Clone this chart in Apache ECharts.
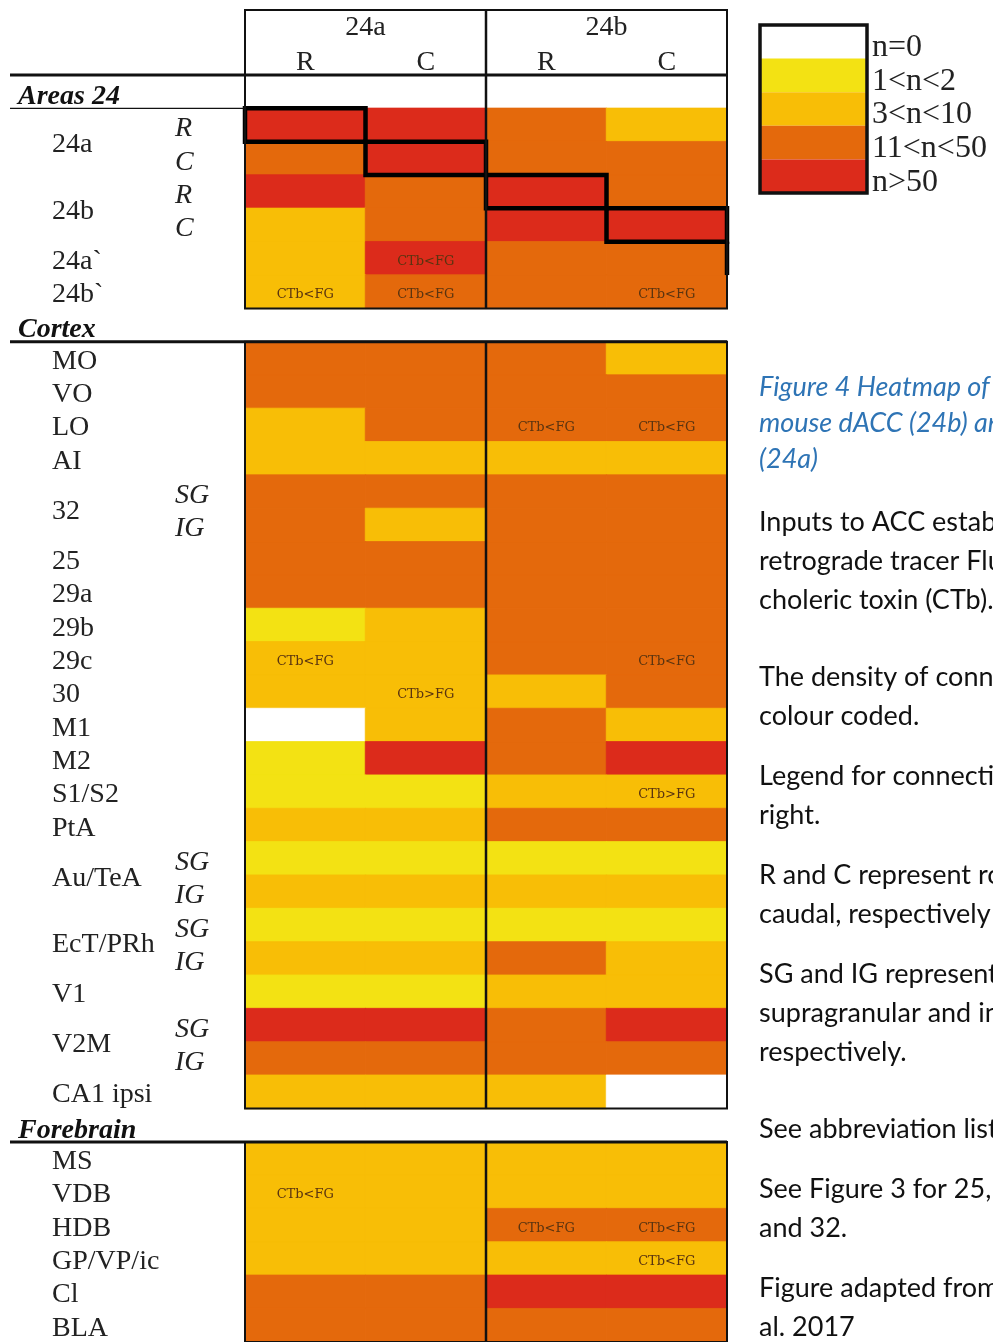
<!DOCTYPE html>
<html><head><meta charset="utf-8">
<script src="https://cdn.jsdelivr.net/npm/echarts@6/dist/echarts.min.js"></script>
<style>html,body{margin:0;padding:0;background:#fff}#c{width:993px;height:1342px}</style>
</head><body><div id="c"></div>
<script>
// ---------- DATA ----------
const columns = ['24a R', '24a C', '24b R', '24b C'];
const columnSubLabels = ['R', 'C', 'R', 'C'];
const columnGroups = ['24a', '24b'];

const rowKeys = ['Areas 24', '24a R', '24a C', '24b R', '24b C', '24a`', '24b`',
  'Cortex', 'MO', 'VO', 'LO', 'AI', '32 SG', '32 IG', '25', '29a', '29b', '29c', '30', 'M1', 'M2', 'S1/S2', 'PtA',
  'Au/TeA SG', 'Au/TeA IG', 'EcT/PRh SG', 'EcT/PRh IG', 'V1', 'V2M SG', 'V2M IG', 'CA1 ipsi',
  'Forebrain', 'MS', 'VDB', 'HDB', 'GP/VP/ic', 'Cl', 'BLA'];
const sectionHeaders = ['Areas 24', 'Cortex', 'Forebrain'];
const rowLabels = ['', '24a', '', '24b', '', '24a`', '24b`',
  '', 'MO', 'VO', 'LO', 'AI', '32', '', '25', '29a', '29b', '29c', '30', 'M1', 'M2', 'S1/S2', 'PtA',
  'Au/TeA', '', 'EcT/PRh', '', 'V1', 'V2M', '', 'CA1 ipsi',
  '', 'MS', 'VDB', 'HDB', 'GP/VP/ic', 'Cl', 'BLA'];
const rowSubLabels = ['', 'R', 'C', 'R', 'C', '', '',
  '', '', '', '', '', 'SG', 'IG', '', '', '', '', '', '', '', '', '',
  'SG', 'IG', 'SG', 'IG', '', 'SG', 'IG', '',
  '', '', '', '', '', '', ''];

// connection level: 0 n=0, 1 1<n<2, 2 3<n<10, 3 11<n<50, 4 n>50 (null = section header row)
const v24aR = [null, 4, 3, 4, 2, 2, 2, null, 3, 3, 2, 2, 3, 3, 3, 3, 1, 2, 2, 0, 1, 1, 2, 1, 2, 1, 2, 1, 4, 3, 2, null, 2, 2, 2, 2, 3, 3];
const v24aC = [null, 4, 4, 3, 3, 4, 3, null, 3, 3, 3, 2, 3, 2, 3, 3, 2, 2, 2, 2, 4, 1, 2, 1, 2, 1, 2, 1, 4, 3, 2, null, 2, 2, 2, 2, 3, 3];
const v24bR = [null, 3, 3, 4, 4, 3, 3, null, 3, 3, 3, 2, 3, 3, 3, 3, 3, 3, 2, 3, 3, 2, 3, 1, 2, 1, 3, 2, 3, 3, 2, null, 2, 2, 3, 2, 4, 3];
const v24bC = [null, 2, 3, 3, 4, 3, 3, null, 2, 3, 3, 2, 3, 3, 3, 3, 3, 3, 3, 2, 4, 2, 3, 1, 2, 1, 2, 2, 4, 3, 0, null, 2, 2, 3, 2, 4, 3];

const notes = [
  ['24a`', '24a C', 'CTb<FG'],
  ['24b`', '24a R', 'CTb<FG'], ['24b`', '24a C', 'CTb<FG'], ['24b`', '24b C', 'CTb<FG'],
  ['LO', '24b R', 'CTb<FG'], ['LO', '24b C', 'CTb<FG'],
  ['29c', '24a R', 'CTb<FG'], ['29c', '24b C', 'CTb<FG'],
  ['30', '24a C', 'CTb>FG'],
  ['S1/S2', '24b C', 'CTb>FG'],
  ['VDB', '24a R', 'CTb<FG'],
  ['HDB', '24b R', 'CTb<FG'], ['HDB', '24b C', 'CTb<FG'],
  ['GP/VP/ic', '24b C', 'CTb<FG']
];

const diagonalCells = [['24a R', '24a R'], ['24a C', '24a C'], ['24b R', '24b R'], ['24b C', '24b C']];

const legendLabels = ['n=0', '1<n<2', '3<n<10', '11<n<50', 'n>50'];
const levelColors = ['#FFFFFF', '#F3E213', '#F8BE06', '#E4690C', '#DC2B1B'];

const captionTitle = ['Figure 4 Heatmap of', 'mouse dACC (24b) and', '(24a)'];
const captionParagraphs = [
  ['Inputs to ACC established', 'retrograde tracer Fluorogold', 'choleric toxin (CTb).'],
  [''],
  ['The density of connections', 'colour coded.'],
  ['Legend for connections', 'right.'],
  ['R and C represent rostral', 'caudal, respectively'],
  ['SG and IG represent', 'supragranular and infragranular', 'respectively.'],
  [''],
  ['See abbreviation list'],
  ['See Figure 3 for 25,', 'and 32.'],
  ['Figure adapted from', 'al. 2017']
];

// ---------- CHART ----------
const chart = echarts.init(document.getElementById('c'));
const colValues = [v24aR, v24aC, v24bR, v24bC];
const heatData = [];
rowKeys.forEach((rk, ri) => {
  colValues.forEach((arr, ci) => {
    const v = arr[ri];
    if (v === null || v === undefined) return;
    const item = { value: [ci, ri, v], itemStyle: { borderColor: levelColors[v], borderWidth: 0.8 } };
    const note = notes.find(n => n[0] === rk && n[1] === columns[ci]);
    if (note) item.label = { show: true, formatter: note[2] };
    heatData.push(item);
  });
});

const serif = '"Liberation Serif", "Times New Roman", serif';

chart.setOption({
  animation: false,
  backgroundColor: '#fff',
  grid: { left: 245, right: 266, top: 75, bottom: 0 },
  xAxis: [
    { type: 'category', data: columns, position: 'top',
      axisLine: { show: false }, axisTick: { show: false }, splitLine: { show: false },
      axisLabel: { formatter: (v, i) => columnSubLabels[i], margin: -2, fontFamily: serif, fontSize: 28, color: '#222' } },
    { type: 'category', data: columnGroups, position: 'top', offset: 35,
      axisLine: { show: false }, axisTick: { show: false }, splitLine: { show: false },
      axisLabel: { margin: -2, fontFamily: serif, fontSize: 28, color: '#222' } }
  ],
  yAxis: { type: 'category', data: rowKeys, inverse: true, show: false },
  visualMap: {
    type: 'piecewise', show: false, dimension: 2, seriesIndex: 0,
    pieces: levelColors.map((c, i) => ({ value: i, color: c }))
  },
  series: [
    {
      type: 'heatmap', data: heatData, xAxisIndex: 0, yAxisIndex: 0,
      emphasis: { disabled: true },
      label: { show: false, fontFamily: '"DejaVu Serif", serif', fontSize: 13, color: '#5a3410', offset: [0, 3] },
      z: 1
    },
    {
      type: 'custom', coordinateSystem: 'cartesian2d', xAxisIndex: 0, yAxisIndex: 0,
      silent: true, clip: false, z: 5,
      data: diagonalCells.map(([r, c]) => [columns.indexOf(c), rowKeys.indexOf(r)]),
      renderItem: function (params, api) {
        const p = api.coord([api.value(0), api.value(1)]);
        const s = api.size([1, 1]);
        const x0 = p[0] - s[0] / 2, y0 = p[1] - s[1] / 2;
        const children = [{
          type: 'rect', shape: { x: x0, y: y0, width: s[0], height: s[1] },
          style: { fill: null, stroke: '#000', lineWidth: 4.5 }
        }];
        if (params.dataIndex === params.dataInsideLength - 1) {
          children.push({ type: 'line', shape: { x1: x0 + s[0], y1: y0 + s[1], x2: x0 + s[0], y2: y0 + 2 * s[1] },
            style: { stroke: '#000', lineWidth: 4.5 } });
        }
        return { type: 'group', children };
      }
    }
  ]
});

// ---------- decorations positioned from the axes ----------
function center(ci, ri) { return chart.convertToPixel({ seriesIndex: 0 }, [ci, ri]); }
const c00 = center(0, 0), c11 = center(1, 1);
const bw = c11[0] - c00[0], bh = c11[1] - c00[1];
const xL = c00[0] - bw / 2;
const xR = center(columns.length - 1, 0)[0] + bw / 2;
const xMid = center(2, 0)[0] - bw / 2;
const rowTop = ri => center(0, ri)[1] - bh / 2;
const rowBot = ri => center(0, ri)[1] + bh / 2;
const rowMid = ri => center(0, ri)[1];

const g = [];
const line = (x1, y1, x2, y2, w) => g.push({ type: 'line', z: 100, silent: true,
  shape: { x1, y1, x2, y2 }, style: { stroke: '#111', lineWidth: w } });
const box = (x, y, w, h, lw) => g.push({ type: 'rect', z: 100, silent: true,
  shape: { x, y, width: w, height: h }, style: { fill: null, stroke: '#111', lineWidth: lw } });
const text = (t, x, y, font, fill, align) => g.push({ type: 'text', z: 100, silent: true, x, y,
  style: { text: t, font, fill: fill || '#222', align: align || 'left', verticalAlign: 'middle' } });

// column header box
const headTop = 10;
box(xL, headTop, xR - xL, rowTop(0) - headTop, 2);
line(xMid, headTop, xMid, rowTop(0), 2.5);
line(10, rowTop(0), xR, rowTop(0), 3);

// sections
const secIdx = sectionHeaders.map(s => rowKeys.indexOf(s));
secIdx.forEach((hi, k) => {
  const last = (k + 1 < secIdx.length ? secIdx[k + 1] : rowKeys.length) - 1;
  const first = k === 0 ? hi : hi + 1;
  const yT = rowTop(first), yB = rowBot(last);
  box(xL, yT, xR - xL, yB - yT, 2);
  line(xMid, yT, xMid, yB, 2.5);
  if (k === 0) line(10, rowBot(hi), xL, rowBot(hi), 1.3);
  else line(10, rowTop(hi + 1), xR, rowTop(hi + 1), 3);
  text(sectionHeaders[k], 18, rowMid(hi) + 5, 'italic bold 28px ' + serif, '#111');
});

// row labels
rowKeys.forEach((rk, ri) => {
  if (rowLabels[ri]) {
    const paired = rowSubLabels[ri] && rowSubLabels[ri + 1];
    const y = paired ? (rowMid(ri) + rowMid(ri + 1)) / 2 : rowMid(ri);
    text(rowLabels[ri], 52, y + 3, '28px ' + serif, '#222');
  }
  if (rowSubLabels[ri]) text(rowSubLabels[ri], 175, rowMid(ri) + 4, 'italic 28px ' + serif, '#222');
});

// colour legend
const lgX = 760, lgY = 25, lgW = 107, lgH = 33.6;
levelColors.forEach((c, i) => {
  g.push({ type: 'rect', z: 100, silent: true, shape: { x: lgX, y: lgY + i * lgH, width: lgW, height: lgH }, style: { fill: c } });
  text(legendLabels[i], lgX + 112, lgY + i * lgH + lgH / 2 + 6, '32px ' + serif, '#222');
});
box(lgX, lgY, lgW, lgH * levelColors.length, 3.5);

// caption text
const capX = 759;
let cy = 387;
captionTitle.forEach(t => { text(t, capX, cy, 'italic 27px Lato, sans-serif', '#2E74B5'); cy += 36; });
cy = 522;
captionParagraphs.forEach(p => {
  if (p.length === 1 && p[0] === '') { cy += 17; return; }
  p.forEach(t => { text(t, capX, cy, '27px Lato, sans-serif', '#111'); cy += 39; });
  cy += 21;
});

chart.setOption({ graphic: g });
</script>
</body></html>
